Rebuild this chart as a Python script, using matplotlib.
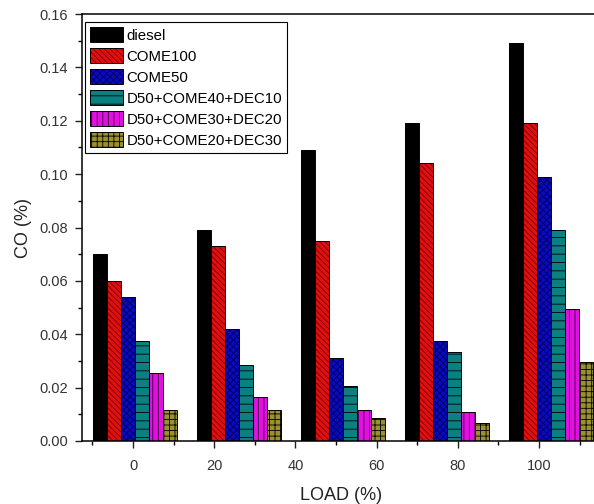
import matplotlib
matplotlib.use("Agg")
import matplotlib.pyplot as plt
import numpy as np
from matplotlib.ticker import MultipleLocator, FormatStrFormatter
from matplotlib.legend_handler import HandlerTuple

plt.rcParams['font.family'] = ['Liberation Sans', 'DejaVu Sans']
plt.rcParams['hatch.linewidth'] = 0.6

# ---- data ----
loads = [0, 25, 50, 75, 100]
series_names = ["diesel", "COME100", "COME50", "D50+COME40+DEC10",
                "D50+COME30+DEC20", "D50+COME20+DEC30"]
diesel = [0.070, 0.079, 0.109, 0.119, 0.149]
come100 = [0.060, 0.073, 0.075, 0.104, 0.119]
come50 = [0.054, 0.042, 0.031, 0.0375, 0.099]
d50_come40_dec10 = [0.0375, 0.0286, 0.0207, 0.0335, 0.079]
d50_come30_dec20 = [0.0255, 0.0166, 0.0117, 0.0107, 0.0495]
d50_come20_dec30 = [0.0118, 0.0118, 0.0087, 0.0067, 0.0295]
xtick_values = [0, 20, 40, 60, 80, 100]

values = [diesel, come100, come50, d50_come40_dec10, d50_come30_dec20, d50_come20_dec30]

face_colors = ['#000000', '#E01010', '#0A0ABE', '#0A8080', '#E010E0', '#9A9030']
hatch_colors = ['#000000', '#7A0000', '#000060', '#000000', '#300030', '#000000']
hatches = [None, '\\\\\\\\\\\\', 'xxxxx', '--', '|||', '+++']

fig = plt.figure(figsize=(5.94, 5.04), dpi=100)
ax = fig.add_axes([82/594, 63/504, 518/594, 427/504])

group_pos = 0.46 + np.array(loads) * 1.025
w = 3.42

handles = []
for i, (vals, fc, hc, h) in enumerate(zip(values, face_colors, hatch_colors, hatches)):
    x = group_pos + (i - 2.5) * w
    b1 = ax.bar(x, vals, width=w, color=fc, edgecolor=hc, hatch=h, linewidth=0, zorder=2)
    b2 = ax.bar(x, vals, width=w, facecolor='none', edgecolor='black', linewidth=0.7, zorder=3)
    handles.append((b1.patches[0], b2.patches[0]))

ax.set_xlim(-12.56, 115.0)
ax.set_ylim(0, 0.16)
ax.set_xticks(xtick_values)
ax.xaxis.set_minor_locator(MultipleLocator(10))
ax.yaxis.set_major_locator(MultipleLocator(0.02))
ax.yaxis.set_minor_locator(MultipleLocator(0.01))
ax.yaxis.set_major_formatter(FormatStrFormatter('%.2f'))

ax.tick_params(axis='both', which='major', direction='out', length=5, width=1.0,
               labelsize=10.5, colors='#222222', labelcolor='#333333')
ax.tick_params(axis='y', which='major', pad=5)
ax.tick_params(axis='x', which='major', pad=8)
ax.tick_params(axis='both', which='minor', direction='out', length=3, width=1.0)
ax.tick_params(top=False, right=False)
for sp in ax.spines.values():
    sp.set_linewidth(1.1)

ax.set_xlabel("LOAD (%)", fontsize=13, color='#222222', labelpad=10)
ax.set_ylabel("CO (%)", fontsize=13, color='#222222', labelpad=5)

ax_w = 518.0
ax_h = 427.0
leg = ax.legend(handles, series_names, loc='upper left',
                bbox_to_anchor=((85 - 82) / ax_w, 1 - (22 - 14) / ax_h),
                borderaxespad=0, fontsize=10.8, frameon=True, fancybox=False,
                edgecolor='black', framealpha=1, labelspacing=0.38,
                handlelength=2.2, handleheight=1.1, handletextpad=0.2,
                borderpad=0.35, handler_map={tuple: HandlerTuple(ndivide=1)})
leg.get_frame().set_linewidth(0.8)

fig.savefig("out.png", dpi=100)
